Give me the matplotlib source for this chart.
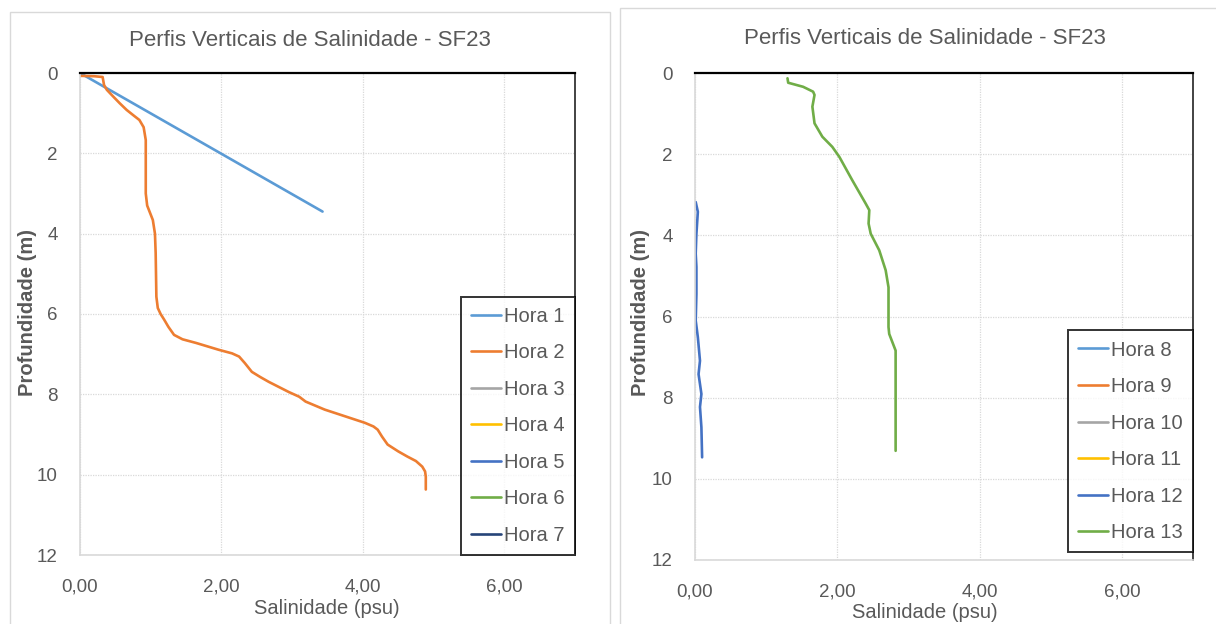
import matplotlib
matplotlib.use("Agg")
import matplotlib.pyplot as plt
from matplotlib.patches import Rectangle
from matplotlib.ticker import FuncFormatter

plt.rcParams["font.family"] = ["Liberation Sans", "DejaVu Sans"]

# Excel default palette
cores = ["#5B9BD5", "#ED7D31", "#A5A5A5", "#FFC000", "#4472C4", "#70AD47", "#264478"]

# Grafico 1 - horas 1 a 7
sal_hora1 = [0.0, 3.43]
prof_hora1 = [0.0, 3.45]

sal_hora2 = [0.0, 0.20, 0.32, 0.34, 0.38, 0.45, 0.56, 0.66, 0.76, 0.84, 0.90, 0.93, 0.93,
             0.93, 0.95, 1.03, 1.06, 1.07, 1.08, 1.10, 1.14, 1.19, 1.25, 1.33, 1.45, 1.64,
             1.96, 2.15, 2.25, 2.33, 2.43, 2.55, 2.67, 2.95, 3.10, 3.19, 3.46, 4.03, 4.15,
             4.21, 4.27, 4.35, 4.50, 4.63, 4.75, 4.84, 4.88, 4.89, 4.89]
prof_hora2 = [0.07, 0.08, 0.10, 0.30, 0.42, 0.55, 0.75, 0.92, 1.06, 1.17, 1.35, 1.67, 2.50,
              3.00, 3.30, 3.66, 4.00, 4.48, 5.57, 5.85, 6.00, 6.14, 6.32, 6.52, 6.63, 6.72,
              6.89, 6.98, 7.06, 7.22, 7.44, 7.57, 7.69, 7.94, 8.06, 8.18, 8.38, 8.71, 8.80,
              8.88, 9.05, 9.25, 9.42, 9.55, 9.66, 9.80, 9.92, 10.05, 10.37]

# Grafico 2 - horas 8 a 13
sal_hora12 = [0.01, 0.04, 0.02, 0.01, 0.02, 0.02, 0.01, 0.04, 0.07, 0.05, 0.09, 0.07, 0.09, 0.10]
prof_hora12 = [3.18, 3.42, 3.96, 4.45, 4.78, 5.44, 6.10, 6.51, 7.09, 7.42, 7.91, 8.23, 8.73, 9.47]

sal_hora13 = [1.30, 1.31, 1.52, 1.66, 1.68, 1.65, 1.68, 1.79, 1.93, 2.03, 2.21, 2.40, 2.45,
              2.44, 2.47, 2.59, 2.68, 2.72, 2.72, 2.73, 2.82, 2.82, 2.82]
prof_hora13 = [0.13, 0.24, 0.34, 0.46, 0.54, 0.83, 1.24, 1.57, 1.82, 2.07, 2.64, 3.22, 3.38,
               3.71, 3.96, 4.37, 4.86, 5.28, 6.26, 6.43, 6.84, 7.91, 9.31]

series_esq = {
    "Hora 1": (sal_hora1, prof_hora1),
    "Hora 2": (sal_hora2, prof_hora2),
    "Hora 3": ([], []),
    "Hora 4": ([], []),
    "Hora 5": ([], []),
    "Hora 6": ([], []),
    "Hora 7": ([], []),
}
series_dir = {
    "Hora 8": ([], []),
    "Hora 9": ([], []),
    "Hora 10": ([], []),
    "Hora 11": ([], []),
    "Hora 12": (sal_hora12, prof_hora12),
    "Hora 13": (sal_hora13, prof_hora13),
}

W, H = 1216, 624
fig = plt.figure(figsize=(W / 100, H / 100), dpi=100)
cinza = "#595959"


def px(x0, y0, x1, y1):
    return [x0 / W, 1 - y1 / H, (x1 - x0) / W, (y1 - y0) / H]


# molduras dos graficos
for (x0, y0, x1, y1) in [(10, 12, 610, 640), (620, 8, 1230, 640)]:
    fig.patches.append(Rectangle((x0 / W, 1 - y1 / H), (x1 - x0) / W, (y1 - y0) / H,
                                 transform=fig.transFigure, fill=False,
                                 edgecolor="#D9D9D9", linewidth=1))


def desenha(ax, series, anchor_y):
    for cor, (nome, (x, y)) in zip(cores, series.items()):
        ax.plot(x, y, color=cor, linewidth=1.9, label=nome,
                solid_capstyle="round", solid_joinstyle="round")
    ax.set_xlim(0, 7)
    ax.set_ylim(12, 0)
    ax.set_xticks([0, 2, 4, 6])
    ax.set_yticks(range(0, 13, 2))
    ax.xaxis.set_major_formatter(FuncFormatter(lambda v, p: f"{v:.2f}".replace(".", ",")))
    ax.grid(True, color="#D9D9D9", linestyle=(0, (1, 1)), linewidth=0.9)
    ax.tick_params(length=0, labelsize=13.5, colors=cinza)
    ax.tick_params(axis="x", pad=17)
    ax.tick_params(axis="y", pad=16)
    ax.spines["top"].set_color("black")
    ax.spines["top"].set_linewidth(1.6)
    ax.spines["right"].set_color("#222222")
    ax.spines["right"].set_linewidth(1.2)
    for s in ["left", "bottom"]:
        ax.spines[s].set_color("#D9D9D9")
        ax.spines[s].set_linewidth(1.2)
    leg = ax.legend(loc="lower right", bbox_to_anchor=(1.0, anchor_y), fontsize=14.5,
                    frameon=True, fancybox=False, borderaxespad=0, handlelength=1.5,
                    handletextpad=0.15, labelspacing=0.87, borderpad=0.5)
    leg.get_frame().set_edgecolor("black")
    leg.get_frame().set_linewidth(1.4)
    for t in leg.get_texts():
        t.set_color(cinza)


ax1 = fig.add_axes(px(80, 73, 575, 555))
desenha(ax1, series_esq, 0.0)
ax2 = fig.add_axes(px(695, 73, 1193, 560))
desenha(ax2, series_dir, 0.016)

titulo = "Perfis Verticais de Salinidade - SF23"
fig.text(310 / W, 1 - 40 / H, titulo, ha="center", va="center", fontsize=16, color=cinza)
fig.text(925 / W, 1 - 38 / H, titulo, ha="center", va="center", fontsize=16, color=cinza)
fig.text(327 / W, 1 - 609 / H, "Salinidade (psu)", ha="center", va="center", fontsize=14.5, color=cinza)
fig.text(925 / W, 1 - 612 / H, "Salinidade (psu)", ha="center", va="center", fontsize=14.5, color=cinza)
fig.text(28 / W, 1 - 313 / H, "Profundidade (m)", ha="center", va="center", rotation=90,
         fontsize=14.5, color=cinza, fontweight="bold")
fig.text(640 / W, 1 - 313 / H, "Profundidade (m)", ha="center", va="center", rotation=90,
         fontsize=14.5, color=cinza, fontweight="bold")

fig.savefig("out.png", dpi=100)
